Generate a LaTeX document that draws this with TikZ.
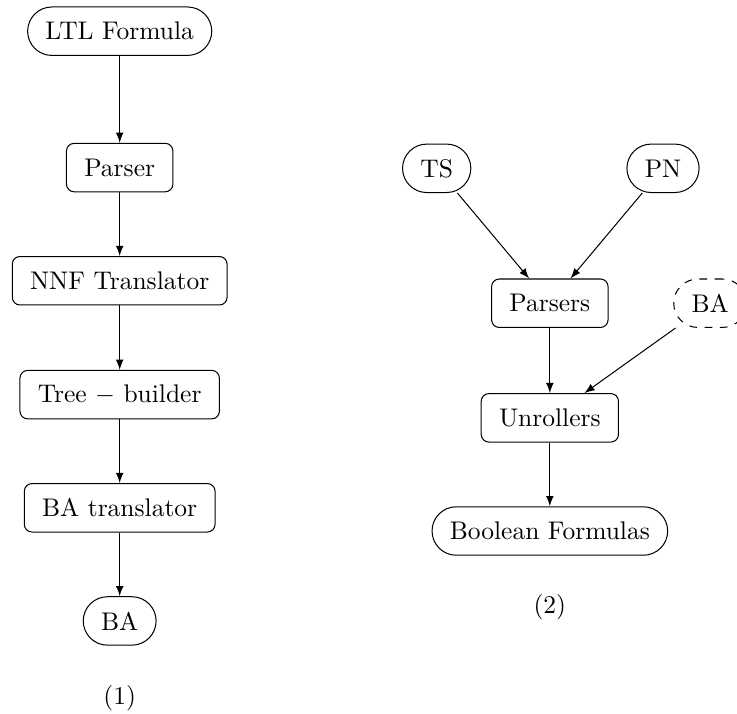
\documentclass[tikz,border=0pt]{standalone}
\usetikzlibrary{arrows}

\begin{document}
\begin{tikzpicture}[>=latex,
  term/.style={draw,rounded corners=9.5pt,inner xsep=7pt,minimum height=19pt},
  proc/.style={draw,rounded corners=3pt,inner xsep=7pt,minimum height=19pt}]
\useasboundingbox (0,0) rectangle (10.16,-9.83);
% (1) formula side
\node[term] (ltl) at (1.65,-0.43) {LTL Formula};
\node[proc] (parser) at (1.65,-2.31) {Parser};
\node[proc] (nnf) at (1.65,-3.87) {NNF Translator};
\node[proc] (tree) at (1.65,-5.44) {Tree $-$ builder};
\node[proc] (batr) at (1.65,-7.0) {BA translator};
\node[term] (ba) at (1.65,-8.56) {BA};
\node (one) at (1.65,-9.62) {(1)};
\draw[->] (ltl) -- (parser);
\draw[->] (parser) -- (nnf);
\draw[->] (nnf) -- (tree);
\draw[->] (tree) -- (batr);
\draw[->] (batr) -- (ba);
% (2) model side
\node[term] (ts) at (6.02,-2.32) {TS};
\node[term] (pn) at (9.14,-2.32) {PN};
\node[proc] (parsers) at (7.58,-4.18) {Parsers};
\node[term,dashed] (bain) at (9.79,-4.18) {BA};
\node[proc] (unroll) at (7.58,-5.76) {Unrollers};
\node[term] (bool) at (7.58,-7.32) {Boolean Formulas};
\node (two) at (7.58,-8.37) {(2)};
\draw[->] (ts) -- (parsers);
\draw[->] (pn) -- (parsers);
\draw[->] (parsers) -- (unroll);
\draw[->] (bain) -- (unroll);
\draw[->] (unroll) -- (bool);
\end{tikzpicture}
\end{document}
